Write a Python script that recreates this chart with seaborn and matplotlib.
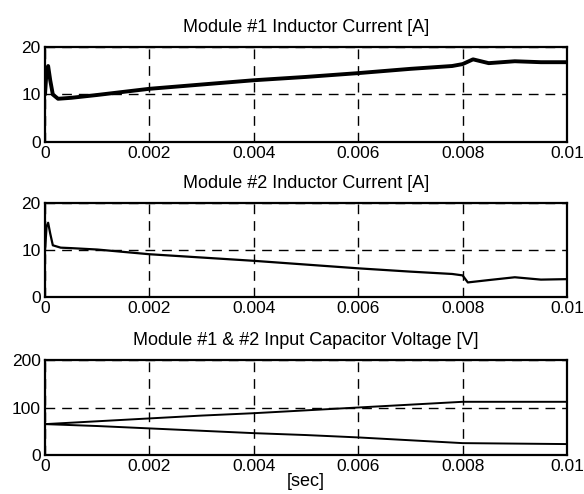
import numpy as np
import pandas as pd
import matplotlib
matplotlib.use("Agg")
import matplotlib.pyplot as plt
import seaborn as sns

# ---- data ----
t1 = [0.0, 0.00003, 0.00006, 0.0001, 0.00015, 0.00025, 0.0005, 0.001, 0.002, 0.003, 0.004,
      0.005, 0.006, 0.007, 0.0078, 0.008, 0.0082, 0.0085, 0.009, 0.0095, 0.01]
i1 = [10.0, 15.0, 16.0, 13.0, 10.0, 9.1, 9.3, 9.9, 11.2, 12.1, 13.0,
      13.7, 14.5, 15.4, 16.0, 16.4, 17.4, 16.6, 17.0, 16.8, 16.8]

t2 = [0.0, 0.00003, 0.00006, 0.0001, 0.00015, 0.0003, 0.0005, 0.001, 0.002, 0.003, 0.004,
      0.005, 0.006, 0.007, 0.0078, 0.008, 0.0081, 0.0085, 0.009, 0.0095, 0.01]
i2 = [10.0, 15.0, 15.8, 13.5, 11.0, 10.5, 10.4, 10.1, 9.1, 8.4, 7.7,
      6.9, 6.1, 5.4, 4.9, 4.6, 3.1, 3.6, 4.2, 3.7, 3.8]

t3 = [0.0, 0.001, 0.002, 0.003, 0.004, 0.005, 0.006, 0.007, 0.008, 0.009, 0.01]
v_up = [65, 71, 77, 83, 88, 94, 100, 106, 112, 112, 112]
v_dn = [65, 61, 56, 51, 46, 42, 37, 31, 25, 24, 23]

titles = ["Module #1 Inductor Current [A]",
          "Module #2 Inductor Current [A]",
          "Module #1 & #2 Input Capacitor Voltage [V]"]
xticks = [0, 0.002, 0.004, 0.006, 0.008, 0.01]
xticklabels = ["0", "0.002", "0.004", "0.006", "0.008", "0.01"]
yticks_cur = [0, 10, 20]
yticks_volt = [0, 100, 200]

sns.set_style("white")
plt.rcParams['font.family'] = ['Liberation Sans', 'DejaVu Sans']

fig = plt.figure(figsize=(5.84, 4.94), dpi=100)
L, W = 45 / 584, 522 / 584
boxes = [(47, 142), (203, 297), (360, 455)]
axes = []
for top, bot in boxes:
    axes.append(fig.add_axes([L, 1 - bot / 494, W, (bot - top) / 494]))

df1 = pd.DataFrame({"t": t1, "v": i1})
df2 = pd.DataFrame({"t": t2, "v": i2})
df3 = pd.DataFrame({"t": t3 + t3, "v": v_up + v_dn,
                    "s": ["up"] * len(t3) + ["dn"] * len(t3)})

sns.lineplot(data=df1, x="t", y="v", ax=axes[0], color="black", lw=2.8, estimator=None)
sns.lineplot(data=df2, x="t", y="v", ax=axes[1], color="black", lw=1.6, estimator=None)
sns.lineplot(data=df3, x="t", y="v", units="s", ax=axes[2], color="black", lw=1.4,
             estimator=None)

for k, ax in enumerate(axes):
    ax.set_xlim(0, 0.01)
    if k < 2:
        ax.set_ylim(0, 20)
        ax.set_yticks(yticks_cur)
        ax.set_yticklabels([str(v) for v in yticks_cur])
    else:
        ax.set_ylim(0, 200)
        ax.set_yticks(yticks_volt)
        ax.set_yticklabels([str(v) for v in yticks_volt])
    ax.set_xticks(xticks)
    ax.set_xticklabels(xticklabels)
    ax.grid(True, color="black", linestyle=(0, (7, 5)), linewidth=1.0)
    ax.set_axisbelow(True)
    for sp in ax.spines.values():
        sp.set_visible(True)
        sp.set_color("black")
        sp.set_linewidth(1.6)
    ax.tick_params(axis="both", direction="in", length=3, width=1, colors="black",
                   labelsize=12.5, pad=3)
    ax.set_title(titles[k], fontsize=13, pad=11, color="black")
    ax.set_xlabel("")
    ax.set_ylabel("")
    if ax.get_legend():
        ax.get_legend().remove()

axes[2].set_xlabel("[sec]", fontsize=13, labelpad=-1, color="black")

fig.savefig("out.png", dpi=100)
